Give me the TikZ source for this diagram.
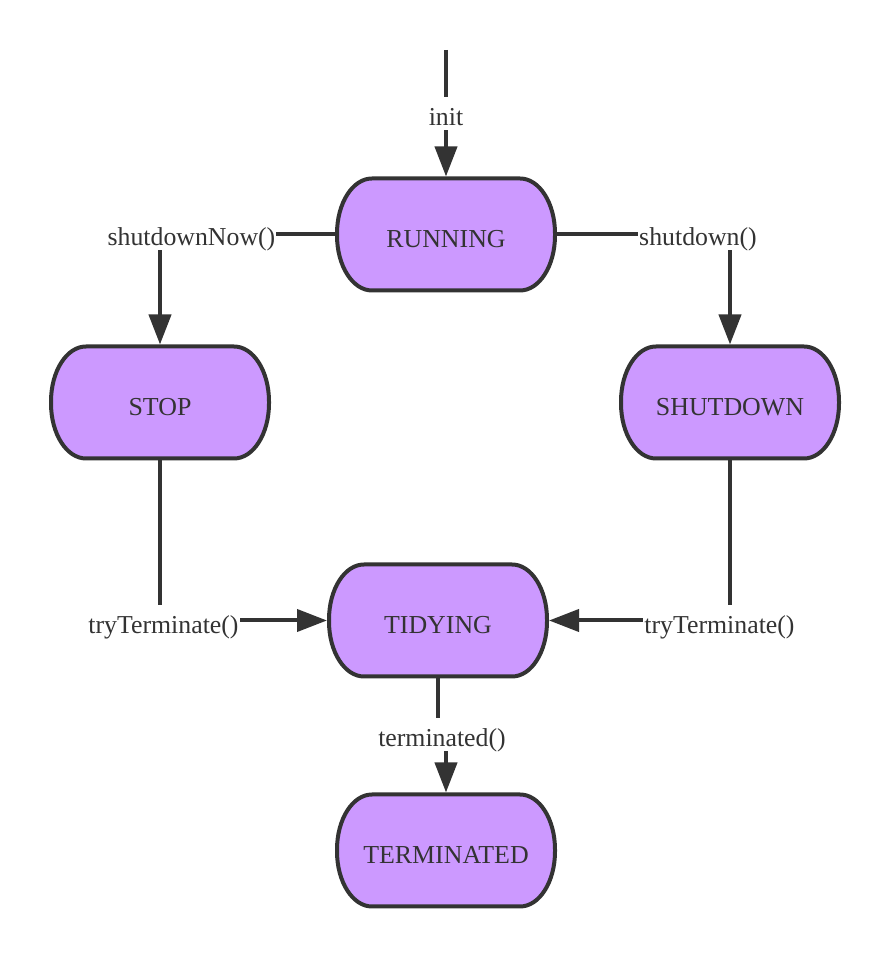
\documentclass[tikz,border=0pt]{standalone}
\usepackage{fontspec}
\setmainfont{Liberation Serif}
\usetikzlibrary{arrows.meta,calc,backgrounds}
\definecolor{boxfill}{HTML}{CC99FF}
\definecolor{ink}{HTML}{333333}
\tikzset{
  state/.style={minimum width=222pt, minimum height=116pt, inner sep=0pt, outer sep=0pt,
    text height=27pt, text depth=0pt, font=\fontsize{25.9pt}{30pt}\selectfont, text=ink},
  elabel/.style={anchor=base, fill=white, inner xsep=1pt, inner ysep=4pt,
    text height=25pt, text depth=0.5pt, font=\fontsize{25.8pt}{30pt}\selectfont, text=ink},
  conn/.style={draw=ink, line width=4pt, -{Triangle[length=30pt,width=22pt]}},
  boxshape/.style={draw=ink, fill=boxfill, line width=4pt}
}
\begin{document}
\begin{tikzpicture}[x=1pt,y=1pt]
\useasboundingbox (0,0) rectangle (890,959);
% states
\node[state] (run)  at (446,724.5) {RUNNING};
\node[state] (stop) at (160,556.5) {STOP};
\node[state] (shut) at (730,556.5) {SHUTDOWN};
\node[state] (tidy) at (438,338.5) {TIDYING};
\node[state] (term) at (446,108.5) {TERMINATED};
% edge labels
\node[elabel] (linit) at (446,833) {init};
\node[elabel] (lsn)   at (191.5,713) {shutdownNow()};
\node[elabel] (lsd)   at (698,713) {shutdown()};
\node[elabel] (ltl)   at (163.5,325) {tryTerminate()};
\node[elabel] (ltr)   at (719.5,325) {tryTerminate()};
\node[elabel] (lte)   at (442,212) {terminated()};
\coordinate (start) at (446,909);
\begin{scope}[on background layer]
\foreach \n in {run,stop,shut,tidy,term}{
  \path[boxshape] ($(\n.north west)+(37pt,-2pt)$) -- ($(\n.north east)+(-37pt,-2pt)$)
    arc[start angle=90,end angle=0,x radius=35pt,y radius=55pt]
    -- ($(\n.south east)+(-2pt,57pt)$)
    arc[start angle=0,end angle=-90,x radius=35pt,y radius=55pt]
    -- ($(\n.south west)+(37pt,2pt)$)
    arc[start angle=-90,end angle=-180,x radius=35pt,y radius=55pt]
    -- ($(\n.north west)+(2pt,-57pt)$)
    arc[start angle=180,end angle=90,x radius=35pt,y radius=55pt]
    -- cycle;
}
\draw[conn] (start) -- (run.north);
\draw[conn] (run.west) -| (stop.north);
\draw[conn] (run.east) -| (shut.north);
\draw[conn] (stop.south) |- (tidy.west);
\draw[conn] (shut.south) |- (tidy.east);
\draw[conn] (tidy.south) |- (lte.center) -| (term.north);
\end{scope}
\end{tikzpicture}
\end{document}
